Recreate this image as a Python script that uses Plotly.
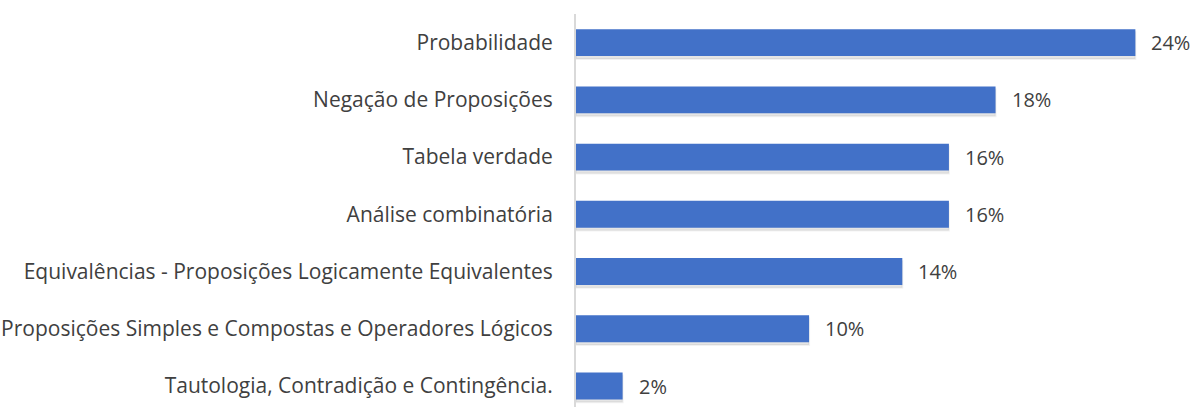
import plotly.graph_objects as go

categories = [
    "Tautologia, Contradição e Contingência.",
    "Proposições Simples e Compostas e Operadores Lógicos",
    "Equivalências - Proposições Logicamente Equivalentes",
    "Análise combinatória",
    "Tabela verdade",
    "Negação de Proposições",
    "Probabilidade",
]
values = [2, 10, 14, 16, 16, 18, 24]
labels = ["2%", "10%", "14%", "16%", "16%", "18%", "24%"]

bar_w = 0.47
fig = go.Figure()
# soft shadow
fig.add_trace(go.Bar(
    y=categories, x=values, orientation="h",
    marker=dict(color="rgba(0,0,0,0.10)", line=dict(width=2, color="rgba(0,0,0,0.05)")),
    width=bar_w, offset=-bar_w / 2 - 0.05, cliponaxis=False, hoverinfo="skip",
))
fig.add_trace(go.Bar(
    y=categories, x=values, orientation="h",
    marker=dict(color="#4271C8", line=dict(width=0)),
    width=bar_w, offset=-bar_w / 2, cliponaxis=False, hoverinfo="skip",
))
for c, v, t in zip(categories, values, labels):
    fig.add_annotation(x=v, y=c, text=t, showarrow=False, xanchor="left",
                       xshift=14, font=dict(size=20, color="#404040"))

fig.update_layout(
    width=1194, height=407,
    margin=dict(l=576, r=12, t=14, b=0),
    paper_bgcolor="white", plot_bgcolor="white",
    font=dict(family="Open Sans, sans-serif", size=20, color="#404040"),
    showlegend=False, barmode="overlay",
)
fig.update_xaxes(range=[0, 26], visible=False, showgrid=False, zeroline=False)
fig.update_yaxes(range=[-0.367, 6.5], showgrid=False, zeroline=False,
                 showline=True, linecolor="#D9D9D9", linewidth=2,
                 ticks="", ticklabelstandoff=17, automargin=False,
                 tickfont=dict(size=21, color="#404040"))
fig.write_html("out.html", config={"displayModeBar": False},
               post_script="document.body.style.margin='0';document.body.style.overflow='hidden';")
